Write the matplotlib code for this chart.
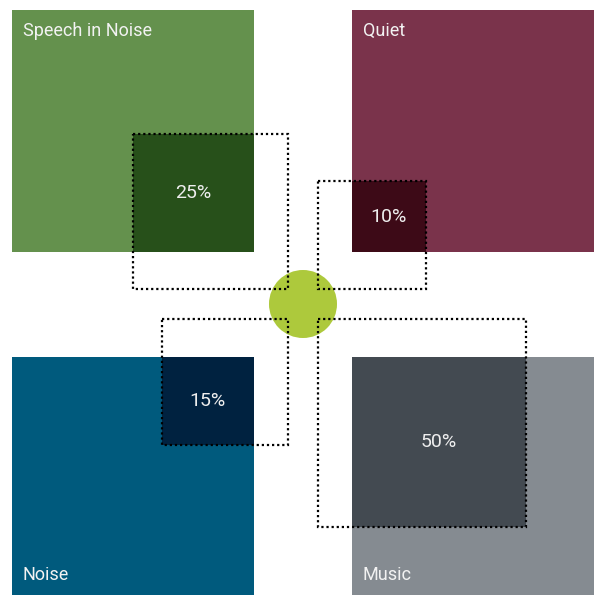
import numpy as np
import matplotlib.pyplot as plt
from matplotlib.patches import Rectangle, Circle

# data
categories = ['Speech in Noise', 'Quiet', 'Noise', 'Music']
shares = [25, 10, 15, 50]
pct_labels = ['25%', '10%', '15%', '50%']
base_colors = ['#64914d', '#7a334b', '#005a7d', '#858b91']
dark_colors = ['#27501a', '#3d0a17', '#002240', '#434a51']

# layout (pixels, y down)
W, H = 598, 595
cx, cy = 303, 304
gap = 15
tile = 242
tile_x = {'l': 12, 'r': 352}
tile_y = {'t': 10, 'b': 357}
corners = ['tl', 'tr', 'bl', 'br']


def side(p):
    # square-root scale for the dotted squares
    return 27 + 25.6 * np.sqrt(p)


fig = plt.figure(figsize=(W / 100, H / 100), dpi=100)
ax = fig.add_axes([0, 0, 1, 1])
ax.set_xlim(0, W)
ax.set_ylim(H, 0)
ax.axis('off')

for cat, p, lab, c1, c2, pos in zip(categories, shares, pct_labels,
                                    base_colors, dark_colors, corners):
    tx = tile_x[pos[1]]
    ty = tile_y[pos[0]]
    ax.add_patch(Rectangle((tx, ty), tile, tile, color=c1, lw=0, zorder=1))

    s = side(p)
    dx = cx - gap - s if pos[1] == 'l' else cx + gap
    dy = cy - gap - s if pos[0] == 't' else cy + gap

    # overlap of dotted square and tile
    x0, x1 = max(tx, dx), min(tx + tile, dx + s)
    y0, y1 = max(ty, dy), min(ty + tile, dy + s)
    ax.add_patch(Rectangle((x0, y0), x1 - x0, y1 - y0, color=c2, lw=0, zorder=2))
    ax.text((x0 + x1) / 2, (y0 + y1) / 2, lab, color='#eeeeee', fontsize=14,
            family='Roboto', ha='center', va='center', zorder=5)

    ax.add_patch(Rectangle((dx, dy), s, s, fill=False, ec='black', lw=1.6,
                           ls=(0, (1, 1.3)), zorder=4))

    ly = 31 if pos[0] == 't' else 575
    ax.text(tx + 11, ly, cat, color='#f2f2f2', fontsize=13, family='Roboto',
            ha='left', va='center', zorder=5)

ax.add_patch(Circle((cx, cy), 34, color='#adc93c', lw=0, zorder=3))

fig.savefig('out.png', dpi=100)
